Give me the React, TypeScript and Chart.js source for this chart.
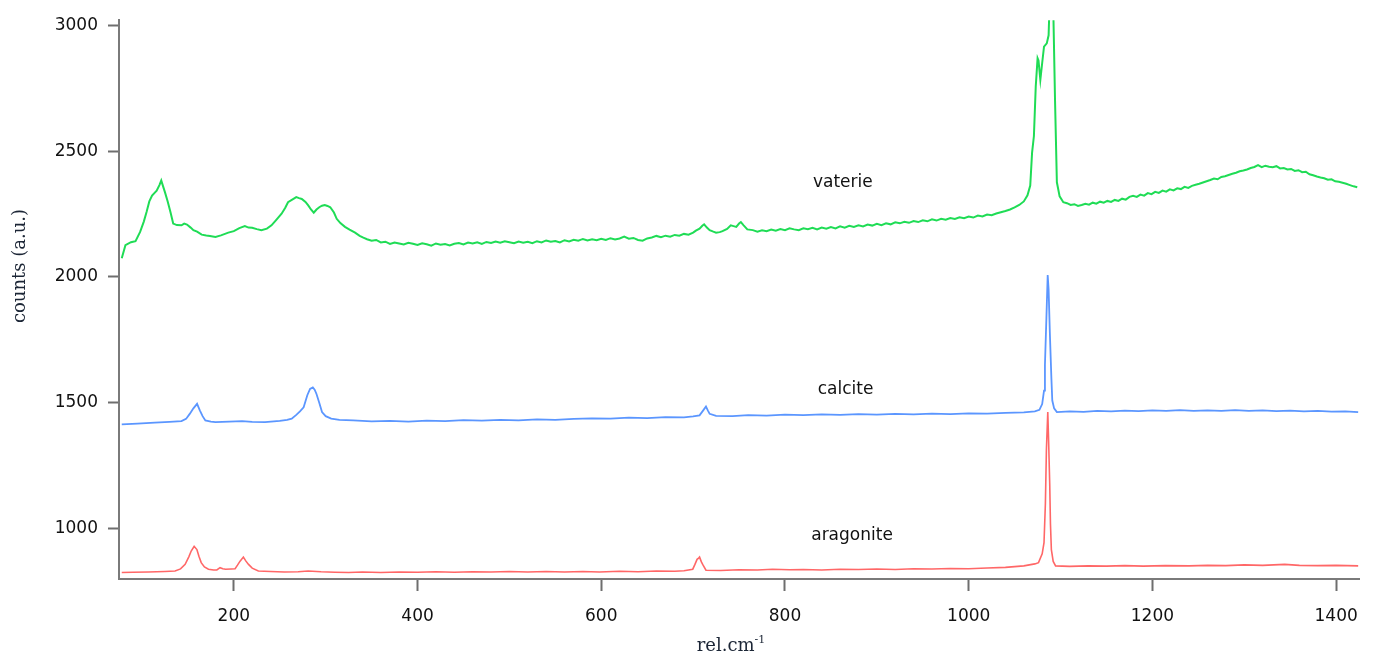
import React, { useEffect, useRef } from "react";
import { Chart, registerables } from "chart.js";

Chart.register(...registerables);

// ---- data (wavenumber rel.cm-1, counts a.u.) ----
const vateriteX = [78, 82, 88, 93, 98, 102, 105, 108, 111, 114, 116, 119, 121, 123, 125, 128, 131, 134, 138, 143, 146, 149, 153, 156, 160, 165, 170, 174, 180, 186, 194, 200, 206, 212, 216, 220, 225, 230, 236, 241, 246, 252, 256, 259, 264, 268, 271, 274, 278, 281, 284, 287, 290, 293, 296, 299, 302, 305, 309, 312, 316, 321, 326, 332, 337, 341,
  345, 350, 355, 360, 365, 370, 375, 380, 385, 390, 395, 400, 405, 410, 415, 420, 425, 430, 435, 440, 445, 450, 455, 460, 465, 470, 475, 480, 485, 490, 495, 500, 505, 510, 515, 520, 525, 530, 535, 540, 545, 550, 555, 560, 565, 570, 575, 580, 585, 590, 595, 600, 605, 610, 615, 620, 625, 630, 635, 640, 645, 650, 655, 660, 665, 670, 675, 680, 685, 690, 695, 700,
  703, 707, 710, 712, 715, 718, 722, 725, 729, 732, 737, 741, 744, 747, 750, 752, 755, 759,
  765, 770, 775, 780, 785, 790, 795, 800, 805, 810, 815, 820, 825, 830, 835, 840, 845, 850, 855, 860, 865, 870, 875, 880, 885, 890, 895, 900, 905, 910, 915, 920, 925, 930, 935, 940, 945, 950, 955, 960, 965, 970, 975, 980, 985, 990, 995, 1000, 1005, 1010, 1015, 1020, 1025, 1030, 1035, 1040, 1045, 1050, 1055,
  1060, 1064, 1067, 1069, 1071, 1073, 1075, 1076, 1078, 1080, 1082, 1085, 1087, 1088, 1090, 1092, 1094, 1096, 1099, 1103,
  1107, 1111, 1115, 1119, 1123, 1127, 1131, 1135, 1139, 1143, 1147, 1151, 1155, 1159, 1163, 1167, 1171, 1175, 1179, 1183, 1187, 1191, 1195, 1199, 1203, 1207, 1211, 1215, 1219, 1223, 1227, 1231, 1235, 1239, 1243, 1247, 1251, 1255, 1259, 1263, 1267, 1271, 1275, 1279, 1283, 1287, 1291, 1295, 1299, 1303, 1307, 1311, 1315, 1319, 1323, 1327, 1331, 1335, 1339, 1343, 1347, 1351, 1355, 1359, 1363, 1367, 1371, 1375, 1379, 1383, 1387, 1391, 1395, 1399, 1403, 1407, 1411, 1415, 1419, 1423];
const vateriteY = [2074, 2126, 2138, 2142, 2179, 2220, 2258, 2300, 2323, 2335, 2343, 2365, 2383, 2360, 2337, 2300, 2258, 2212, 2206, 2205, 2212, 2208, 2196, 2186, 2180, 2168, 2165, 2163, 2159, 2165, 2176, 2182, 2194, 2202, 2196, 2195, 2190, 2186, 2192, 2205, 2226, 2251, 2275, 2297, 2308, 2317, 2313, 2310, 2298, 2284, 2268, 2255, 2268, 2277, 2283, 2286, 2282, 2277, 2256, 2231, 2214, 2199, 2188, 2176, 2163, 2156,
  2150, 2144, 2147, 2137, 2140, 2131, 2137, 2133, 2129, 2136, 2132, 2127, 2134, 2130, 2124, 2133, 2128, 2131, 2125, 2132, 2135, 2129, 2137, 2133, 2138, 2131, 2139, 2135, 2141, 2136, 2142, 2138, 2134, 2141, 2136, 2140, 2134, 2142, 2137, 2145, 2140, 2143, 2137, 2146, 2141, 2148, 2144, 2151, 2145, 2150, 2146, 2152, 2147, 2154, 2149, 2153, 2160, 2152, 2155, 2147, 2144, 2153, 2157, 2163, 2158, 2164, 2160, 2167, 2164, 2171, 2168, 2176,
  2184, 2192, 2203, 2209, 2196, 2186, 2180, 2176, 2178, 2182, 2191, 2205, 2202, 2199, 2212, 2218, 2205, 2189,
  2186, 2180, 2185, 2182, 2188, 2184, 2190, 2186, 2193, 2189, 2186, 2193, 2190, 2195, 2189, 2196, 2192, 2198, 2193, 2201, 2196, 2203, 2199, 2205, 2201, 2208, 2204, 2211, 2206, 2213, 2209, 2217, 2213, 2219, 2215, 2222, 2218, 2225, 2221, 2229, 2224, 2231, 2227, 2234, 2230, 2237, 2233, 2240, 2236, 2244, 2240, 2248, 2245, 2252, 2257, 2262, 2268, 2276, 2286,
  2300, 2324, 2363, 2494, 2560, 2757, 2869, 2860, 2783, 2850, 2915, 2928, 2960, 3080, 3120, 3080, 2700, 2376, 2320, 2297,
  2293, 2286, 2289, 2282, 2286, 2291, 2287, 2295, 2291, 2299, 2295, 2302, 2298, 2306, 2302, 2311, 2307, 2318, 2322, 2318, 2327, 2323, 2333, 2329, 2338, 2334, 2343, 2339, 2348, 2344, 2352, 2349, 2358, 2354, 2362, 2366, 2370, 2375, 2380, 2385, 2391, 2388, 2397, 2400, 2405, 2410, 2414, 2420, 2423, 2427, 2433, 2437, 2444, 2436, 2442, 2438, 2436, 2440, 2431, 2433, 2427, 2429, 2421, 2424, 2416, 2418, 2408, 2404, 2399, 2395, 2392, 2386, 2388, 2380, 2378, 2374, 2370, 2365, 2360, 2356];

const calciteX = [78, 95, 114, 130, 143, 148, 152, 156, 160, 163, 166, 169, 175, 180, 195, 209, 220, 234, 250, 258, 263, 268, 272, 276, 280, 283, 286, 288, 290, 293, 296, 300, 306, 315,
  330, 350, 370, 390, 410, 430, 450, 470, 490, 510, 530, 550, 570, 590, 610, 630, 650, 670, 690, 700, 707, 711, 714, 716, 718, 725, 743, 760, 780, 800, 820, 840, 860, 880, 900, 920, 940, 960, 980, 1000, 1020, 1040, 1060,
  1072, 1077, 1080, 1082, 1083, 1084.6, 1086, 1087, 1088.4, 1090, 1091, 1093, 1096,
  1110, 1125, 1140, 1155, 1170, 1185, 1200, 1215, 1230, 1245, 1260, 1275, 1290, 1305, 1320, 1335, 1350, 1365, 1380, 1395, 1410, 1424];
const calciteY = [1414, 1417, 1421, 1424, 1427, 1436, 1456, 1478, 1496, 1470, 1447, 1430, 1425, 1423, 1425, 1427, 1424, 1423, 1428, 1432, 1437, 1452, 1466, 1482, 1530, 1555, 1561, 1552, 1535, 1500, 1463, 1447, 1437, 1432,
  1430, 1426, 1428, 1425, 1429, 1427, 1431, 1429, 1432, 1430, 1434, 1432, 1436, 1438, 1437, 1441, 1439, 1443, 1442, 1446, 1450, 1470, 1485, 1470, 1456, 1448, 1447, 1451, 1449, 1453, 1451, 1454, 1452, 1455, 1453, 1456, 1454, 1457, 1455, 1458, 1457, 1460, 1462,
  1466, 1472, 1495, 1548, 1650, 1837, 2008, 1950, 1772, 1600, 1509, 1478, 1463,
  1466, 1464, 1468, 1466, 1469, 1467, 1470, 1468, 1471, 1468, 1470, 1468, 1471, 1468, 1470, 1467, 1469, 1466, 1468, 1465, 1466, 1463];

const aragoniteX = [78, 90, 107, 125, 136, 142, 147, 151, 153.6, 156.8, 159.8, 162, 164.5, 168, 172.4, 178, 181.5, 185, 188, 191, 197, 201.4, 204, 206.8, 210.4, 213, 216, 220, 226.7,
  240, 255, 270, 281, 295, 310, 325, 340, 360, 380, 400, 420, 440, 460, 480, 500, 520, 540, 560, 580, 598, 620, 640, 660, 680, 690,
  699.6, 702, 704.3, 706, 707, 709, 710.4, 714,
  730, 750, 770, 786.5, 805, 820, 840, 860, 880, 900, 920, 940, 960, 980, 1000, 1020, 1040, 1060,
  1072, 1076, 1080, 1082, 1083.5, 1084.6, 1086.1, 1087, 1088.2, 1089, 1090, 1092, 1094.6,
  1110, 1130, 1150, 1170, 1190, 1214, 1240, 1260, 1280, 1300, 1320, 1344, 1360, 1380, 1400, 1424];
const aragoniteY = [826, 827, 828, 830, 832, 840, 858, 888, 911, 930, 917, 890, 865, 848, 839, 836, 836, 845, 841, 839, 840, 841, 855, 871, 887, 872, 858, 843, 832,
  830, 828, 829, 832, 829, 827, 826, 828, 826, 828, 827, 829, 827, 829, 828, 830, 828, 830, 828, 830, 828, 831, 829, 832, 831, 833,
  839, 858, 878, 883, 887, 868, 858, 835,
  834, 837, 836, 839, 837, 838, 836, 839, 838, 840, 838, 841, 840, 842, 841, 844, 846, 852,
  860, 865, 900, 944, 1100, 1312, 1463, 1350, 1180, 1020, 917, 870, 852,
  850, 852, 851, 853, 851, 853, 852, 854, 853, 856, 854, 858, 854, 853, 854, 852];

const seriesNames = ["vaterie", "calcite", "aragonite"];
const labelX = [863, 866, 873];
const labelY = [2376, 1552, 973];

const xTickValues = [200, 400, 600, 800, 1000, 1200, 1400];
const yTickValues = [1000, 1500, 2000, 2500, 3000];

const toPoints = (xs: number[], ys: number[]) => xs.map((x, i) => ({ x, y: ys[i] }));

const annotationPlugin = {
  id: "annotations",
  afterDatasetsDraw(chart: any) {
    const { ctx, scales } = chart;
    const xs = scales.x;
    const ys = scales.y;
    ctx.save();
    // series labels
    ctx.fillStyle = "#111";
    ctx.font = "17px 'DejaVu Sans'";
    ctx.textAlign = "center";
    ctx.textBaseline = "middle";
    seriesNames.forEach((name, i) => {
      ctx.fillText(name, xs.getPixelForValue(labelX[i]), ys.getPixelForValue(labelY[i]));
    });
    // y axis title
    ctx.save();
    ctx.translate(20, 266);
    ctx.rotate(-Math.PI / 2);
    ctx.fillStyle = "#1c2636";
    ctx.font = "18px 'DejaVu Serif'";
    ctx.textAlign = "center";
    ctx.textBaseline = "middle";
    ctx.fillText("counts (a.u.)", 0, 0);
    ctx.restore();
    // x axis title with superscript
    ctx.fillStyle = "#1c2636";
    ctx.textAlign = "left";
    ctx.textBaseline = "alphabetic";
    ctx.font = "18px 'DejaVu Serif'";
    const main = "rel.cm";
    const wMain = ctx.measureText(main).width;
    ctx.font = "11px 'DejaVu Serif'";
    const sup = "-1";
    const wSup = ctx.measureText(sup).width;
    const startX = 731 - (wMain + wSup) / 2;
    ctx.font = "18px 'DejaVu Serif'";
    ctx.fillText(main, startX, 651);
    ctx.font = "11px 'DejaVu Serif'";
    ctx.fillText(sup, startX + wMain, 643);
    ctx.restore();
  },
};

export default function App() {
  const canvasRef = useRef<HTMLCanvasElement | null>(null);

  useEffect(() => {
    document.body.style.margin = "0";
    const canvas = canvasRef.current;
    if (!canvas) return;
    const chart = new Chart(canvas, {
      type: "line",
      data: {
        datasets: [
          {
            label: seriesNames[0],
            data: toPoints(vateriteX, vateriteY),
            borderColor: "#1fdc55",
            borderWidth: 2,
            pointRadius: 0,
            tension: 0,
          },
          {
            label: seriesNames[1],
            data: toPoints(calciteX, calciteY),
            borderColor: "#5b96ff",
            borderWidth: 1.8,
            pointRadius: 0,
            tension: 0,
          },
          {
            label: seriesNames[2],
            data: toPoints(aragoniteX, aragoniteY),
            borderColor: "#ff6767",
            borderWidth: 1.6,
            pointRadius: 0,
            tension: 0,
          },
        ],
      },
      options: {
        animation: false,
        responsive: true,
        maintainAspectRatio: false,
        layout: { padding: { top: 15, right: 13, left: 0, bottom: 0 } },
        plugins: { legend: { display: false }, tooltip: { enabled: false } },
        scales: {
          x: {
            type: "linear",
            min: 75,
            max: 1425,
            afterFit: (s: any) => {
              s.height = 76;
            },
            afterBuildTicks: (s: any) => {
              s.ticks = xTickValues.map((v) => ({ value: v }));
            },
            grid: {
              drawOnChartArea: false,
              drawTicks: true,
              tickLength: 12,
              tickWidth: 2,
              tickColor: "#6e6e6e",
            },
            border: { display: true, color: "#7a7a7a", width: 2 },
            ticks: {
              padding: 15,
              color: "#111",
              font: { family: "'DejaVu Sans'", size: 17 },
              maxRotation: 0,
              autoSkip: false,
              callback: (v: any) => String(v),
            },
          },
          y: {
            type: "linear",
            min: 800,
            max: 3020,
            afterFit: (s: any) => {
              s.width = 119;
            },
            afterBuildTicks: (s: any) => {
              s.ticks = yTickValues.map((v) => ({ value: v }));
            },
            grid: {
              drawOnChartArea: false,
              drawTicks: true,
              tickLength: 11,
              tickWidth: 2,
              tickColor: "#6e6e6e",
            },
            border: { display: true, color: "#7a7a7a", width: 2 },
            ticks: {
              padding: 10,
              color: "#111",
              font: { family: "'DejaVu Sans'", size: 17 },
              autoSkip: false,
              callback: (v: any) => String(v),
            },
          },
        },
      },
      plugins: [annotationPlugin],
    });
    return () => chart.destroy();
  }, []);

  return (
    <div style={{ width: 1373, height: 655, position: "relative", background: "#fff" }}>
      <canvas ref={canvasRef} />
    </div>
  );
}
